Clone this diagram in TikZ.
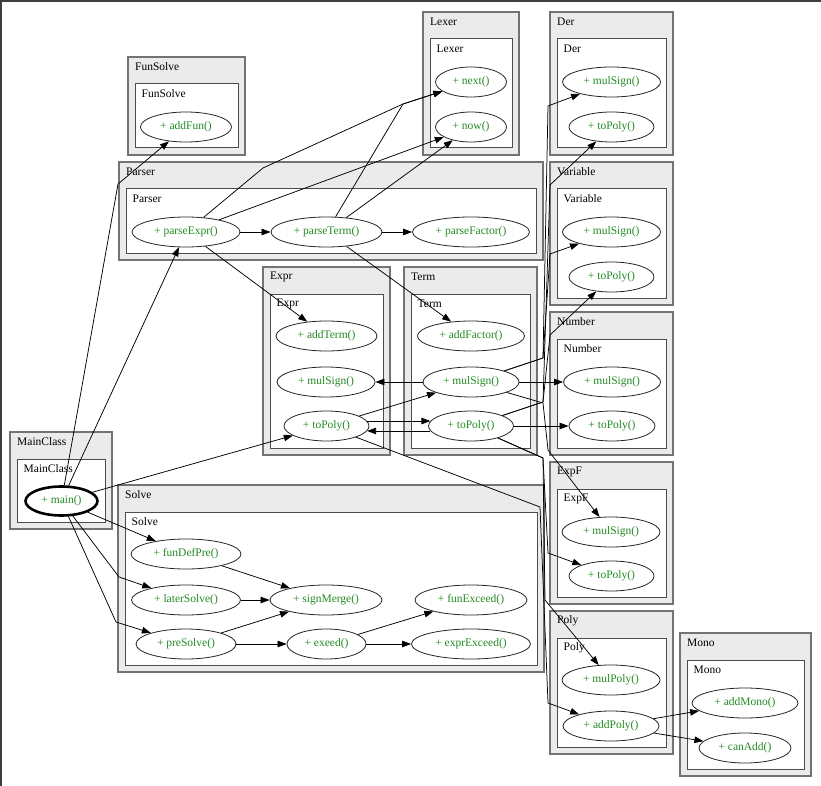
\documentclass[tikz,border=0pt]{standalone}
\usepackage{fontspec}
\setmainfont{Liberation Serif}
\usetikzlibrary{shapes.geometric,arrows.meta,calc}
\definecolor{clgray}{RGB}{235,235,235}
\definecolor{mgreen}{RGB}{34,139,34}
\definecolor{framec}{RGB}{60,63,65}
\newcommand\mfont{\fontsize{11.5}{13}\selectfont}
\newcommand\mkclust[5]{%
  \draw[outerbox] (#2,#3) rectangle (#4,#5);
  \draw[innerbox] ($(#2,#3)+(7,27)$) rectangle ($(#4,#5)+(-7,-7)$);
  \node[lbl] (o#1) at ($(#2,#3)+(7,10)$) {#1};
  \node[lbl] (i#1) at ($(#2,#3)+(13.5,37)$) {#1};}
\begin{document}
\begin{tikzpicture}[x=1pt,y=-1pt,
  outerbox/.style={fill=clgray, draw=black!55, line width=1.3pt},
  innerbox/.style={fill=white, draw=black!70, line width=1pt},
  meth/.style={ellipse, draw=black!85, line width=0.8pt, inner sep=0pt,
    minimum height=30pt, text=mgreen, font=\mfont},
  lbl/.style={anchor=west, inner sep=0pt, font=\mfont},
  e/.style={-{Triangle[length=9pt,width=6.5pt]}, line width=0.75pt, black}]
\useasboundingbox (0,0) rectangle (821,786);
\fill[white] (0,0) rectangle (821,786);
\fill[framec] (0,0) rectangle (821,2);
\fill[framec] (0,0) rectangle (2,786);
% clusters
\mkclust{FunSolve}{128}{57}{245}{155}
\mkclust{Lexer}{423}{12}{519}{155}
\mkclust{Der}{550}{12}{673}{155}
\mkclust{Parser}{119}{162}{543}{260}
\mkclust{Variable}{550}{162}{673}{305}
\mkclust{Expr}{263}{267}{390}{455}
\mkclust{Term}{404}{267}{537}{455}
\mkclust{Number}{550}{312}{673}{455}
\mkclust{MainClass}{10}{432}{112}{529}
\mkclust{Solve}{118}{485}{544}{672}
\mkclust{ExpF}{550}{462}{673}{604}
\mkclust{Poly}{550}{611}{673}{754}
\mkclust{Mono}{680}{633}{811}{776}
% methods
\node[meth, minimum width=91pt] (addFun) at (186,127) {+ addFun()};
\node[meth, minimum width=108pt] (parseExpr) at (186,232) {+ parseExpr()};
\node[meth, minimum width=111pt] (parseTerm) at (326.5,232) {+ parseTerm()};
\node[meth, minimum width=117pt] (parseFactor) at (471,232) {+ parseFactor()};
\node[meth, minimum width=71pt] (next) at (471,82) {+ next()};
\node[meth, minimum width=71pt] (now) at (471,127) {+ now()};
\node[meth, minimum width=98pt] (derMul) at (611.5,82) {+ mulSign()};
\node[meth, minimum width=85pt] (derTP) at (611.5,127) {+ toPoly()};
\node[meth, minimum width=98pt] (varMul) at (611.5,232) {+ mulSign()};
\node[meth, minimum width=85pt] (varTP) at (611.5,277) {+ toPoly()};
\node[meth, minimum width=97pt] (numMul) at (612,382) {+ mulSign()};
\node[meth, minimum width=86pt] (numTP) at (612,426) {+ toPoly()};
\node[meth, minimum width=98pt] (expfMul) at (611,532) {+ mulSign()};
\node[meth, minimum width=85pt] (expfTP) at (611.5,576) {+ toPoly()};
\node[meth, minimum width=98pt] (mulPoly) at (611,680) {+ mulPoly()};
\node[meth, minimum width=96pt] (addPoly) at (611,726) {+ addPoly()};
\node[meth, minimum width=106pt] (addMono) at (745,703) {+ addMono()};
\node[meth, minimum width=92pt] (canAdd) at (745,748) {+ canAdd()};
\node[meth, minimum width=101pt] (addTerm) at (326.5,336) {+ addTerm()};
\node[meth, minimum width=98pt] (exprMul) at (326,382) {+ mulSign()};
\node[meth, minimum width=85pt] (exprTP) at (326.5,426) {+ toPoly()};
\node[meth, minimum width=107pt] (addFactor) at (471,336) {+ addFactor()};
\node[meth, minimum width=96pt] (termMul) at (471,382) {+ mulSign()};
\node[meth, minimum width=85pt] (termTP) at (471,426) {+ toPoly()};
\node[meth, minimum width=72pt, minimum height=29pt, line width=2.6pt, draw=black] (main) at (61.5,501) {+ main()};
\node[meth, minimum width=110pt] (funDefPre) at (186,554) {+ funDefPre()};
\node[meth, minimum width=109pt] (laterSolve) at (186,600) {+ laterSolve()};
\node[meth, minimum width=100pt] (preSolve) at (186,644) {+ preSolve()};
\node[meth, minimum width=112pt] (signMerge) at (326,600) {+ signMerge()};
\node[meth, minimum width=79pt] (exeed) at (326.5,644) {+ exeed()};
\node[meth, minimum width=112pt] (funExceed) at (471,600) {+ funExceed()};
\node[meth, minimum width=119pt] (exprExceed) at (471,644) {+ exprExceed()};
% edges from main
\draw[e] (main) -- (118,184) -- (addFun);
\draw[e] (main) -- (parseExpr);
\draw[e] (main) -- (exprTP);
\draw[e] (main) -- (funDefPre);
\draw[e] (main) -- (119,577) -- (laterSolve);
\draw[e] (main) -- (116,622) -- (preSolve);
% Solve
\draw[e] (funDefPre) -- (signMerge);
\draw[e] (laterSolve) -- (signMerge);
\draw[e] (preSolve) -- (signMerge);
\draw[e] (preSolve) -- (exeed);
\draw[e] (exeed) -- (funExceed);
\draw[e] (exeed) -- (exprExceed);
% Parser
\draw[e] (parseExpr) -- (parseTerm);
\draw[e] (parseTerm) -- (parseFactor);
\draw[e] (parseExpr) -- (263,168) -- (403,104) -- (next);
\draw[e] (parseTerm) -- (403,104) -- (next);
\draw[e] (parseExpr) -- (now);
\draw[e] (parseTerm) -- (now);
\draw[e] (parseExpr) -- (addTerm);
\draw[e] (parseTerm) -- (addFactor);
% Term / Expr
\draw[e] (termMul) -- (exprMul);
\draw[e] (termMul) -- (numMul);
\draw[e] (exprTP) -- (termMul);
\draw[e] (exprTP.7) -- (termTP.173);
\draw[e] (termTP.187) -- (exprTP.353);
\draw[e] (termTP) -- (numTP);
\draw[e] (termMul) -- (543,358) -- (548,106) -- (derMul);
\draw[e] (termMul) -- (543,358) -- (550,254) -- (varMul);
\draw[e] (termMul) -- (543,403) -- (548,450) -- (expfMul);
\draw[e] (termTP) -- (543,402) -- (550,185) -- (derTP);
\draw[e] (termTP) -- (543,402) -- (550,335) -- (varTP);
\draw[e] (termTP) -- (543,458) -- (548,553) -- (expfTP);
\draw[e] (termTP) -- (543,458) -- (545,600) -- (mulPoly);
\draw[e] (exprTP) -- (540,507) -- (548,703) -- (addPoly);
% Poly / Mono
\draw[e] (addPoly) -- (addMono);
\draw[e] (addPoly) -- (canAdd);
\end{tikzpicture}
\end{document}
